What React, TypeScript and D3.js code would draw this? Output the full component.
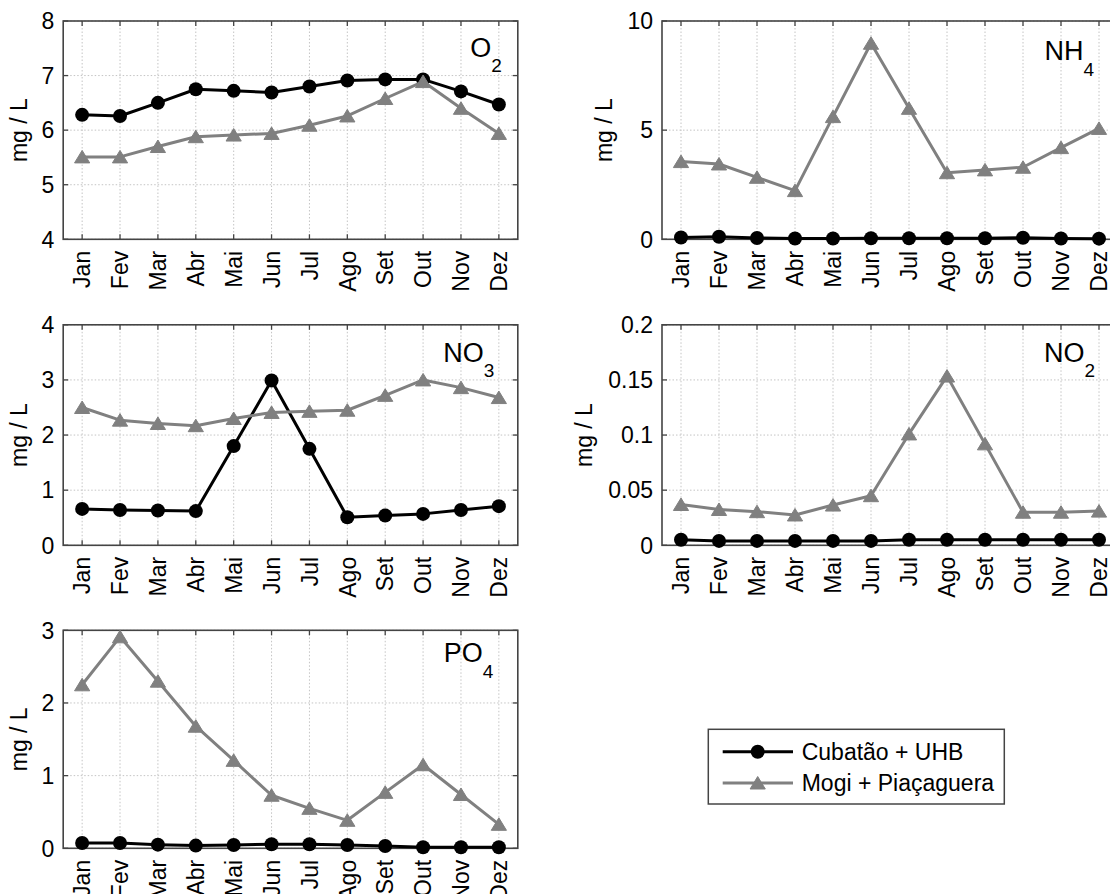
import React from "react";
import * as d3 from "d3";

// ---------- Data ----------
const months = ["Jan", "Fev", "Mar", "Abr", "Mai", "Jun", "Jul", "Ago", "Set", "Out", "Nov", "Dez"];
const seriesNames = ["Cubatão + UHB", "Mogi + Piaçaguera"];

const o2Cubatao = [6.28, 6.26, 6.5, 6.75, 6.72, 6.69, 6.8, 6.91, 6.93, 6.93, 6.71, 6.47];
const o2Mogi = [5.51, 5.51, 5.7, 5.88, 5.91, 5.94, 6.09, 6.26, 6.58, 6.89, 6.4, 5.94];
const o2Ticks = [4, 5, 6, 7, 8];

const nh4Cubatao = [0.08, 0.12, 0.06, 0.04, 0.04, 0.05, 0.05, 0.05, 0.05, 0.07, 0.04, 0.03];
const nh4Mogi = [3.56, 3.45, 2.84, 2.23, 5.62, 8.98, 6.0, 3.05, 3.18, 3.3, 4.2, 5.08];
const nh4Ticks = [0, 5, 10];

const no3Cubatao = [0.66, 0.64, 0.63, 0.62, 1.8, 2.99, 1.75, 0.51, 0.54, 0.57, 0.64, 0.71];
const no3Mogi = [2.5, 2.27, 2.21, 2.17, 2.3, 2.41, 2.43, 2.45, 2.72, 3.0, 2.86, 2.68];
const no3Ticks = [0, 1, 2, 3, 4];

const no2Cubatao = [0.005, 0.004, 0.004, 0.004, 0.004, 0.004, 0.005, 0.005, 0.005, 0.005, 0.005, 0.005];
const no2Mogi = [0.037, 0.0325, 0.0305, 0.0275, 0.0365, 0.045, 0.101, 0.1535, 0.092, 0.03, 0.03, 0.031];
const no2Ticks = [0, 0.05, 0.1, 0.15, 0.2];

const po4Cubatao = [0.073, 0.073, 0.05, 0.037, 0.046, 0.055, 0.055, 0.046, 0.032, 0.014, 0.014, 0.014];
const po4Mogi = [2.25, 2.91, 2.3, 1.68, 1.21, 0.73, 0.55, 0.385, 0.77, 1.15, 0.74, 0.33];
const po4Ticks = [0, 1, 2, 3];

// ---------- Style / layout ----------
const FONT = "'Liberation Sans', Arial, Helvetica, sans-serif";
const BLACK = "#000000";
const GRAY = "#808080";
const AXIS = "#444444";
const GRID = "#c4c4c4";
const FS = 23;

type PanelSpec = {
  main: string;
  sub: string;
  cubatao: number[];
  mogi: number[];
  ticks: number[];
  left: number;
  top: number;
  width: number;
  height: number;
  ylabelOffset: number;
  labelRight: number;
  labelBase: number;
};

const panels: PanelSpec[] = [
  { main: "O", sub: "2", cubatao: o2Cubatao, mogi: o2Mogi, ticks: o2Ticks,
    left: 63.2, top: 21, width: 454.6, height: 218.3, ylabelOffset: 36, labelRight: 16, labelBase: 35.8 },
  { main: "NH", sub: "4", cubatao: nh4Cubatao, mogi: nh4Mogi, ticks: nh4Ticks,
    left: 662, top: 21, width: 456, height: 218.3, ylabelOffset: 50, labelRight: 24, labelBase: 39 },
  { main: "NO", sub: "3", cubatao: no3Cubatao, mogi: no3Mogi, ticks: no3Ticks,
    left: 63.2, top: 324.8, width: 454.6, height: 220.5, ylabelOffset: 36, labelRight: 23.5, labelBase: 37 },
  { main: "NO", sub: "2", cubatao: no2Cubatao, mogi: no2Mogi, ticks: no2Ticks,
    left: 662, top: 324.8, width: 456, height: 220.5, ylabelOffset: 70, labelRight: 23, labelBase: 37 },
  { main: "PO", sub: "4", cubatao: po4Cubatao, mogi: po4Mogi, ticks: po4Ticks,
    left: 63.2, top: 630.3, width: 454.6, height: 218, ylabelOffset: 36, labelRight: 24.5, labelBase: 32 },
];

const triPath = "M0,-6.5L7.6,6L-7.6,6Z";
const MR = 7;

function Panel({ p }: { p: PanelSpec }) {
  const right = p.left + p.width;
  const bottom = p.top + p.height;
  const xb = d3.scaleBand<string>().domain(months).range([p.left, right]).padding(0);
  const xc = (m: string) => (xb(m) as number) + xb.bandwidth() / 2;
  const y = d3.scaleLinear().domain([p.ticks[0], p.ticks[p.ticks.length - 1]]).range([bottom, p.top]);
  const line = d3.line<number>().x((_, i) => xc(months[i])).y((v) => y(v));
  const tl = 5;
  const cy = (p.top + bottom) / 2;
  const ylx = p.left - p.ylabelOffset;
  return (
    <g>
      {/* grid */}
      {months.map((m) => (
        <line key={"gx" + m} x1={xc(m)} x2={xc(m)} y1={p.top} y2={bottom}
          stroke={GRID} strokeWidth={1} strokeDasharray="1.5,2" />
      ))}
      {p.ticks.map((t) => (
        <line key={"gy" + t} x1={p.left} x2={right} y1={y(t)} y2={y(t)}
          stroke={GRID} strokeWidth={1} strokeDasharray="1.5,2" />
      ))}
      {/* ticks */}
      {months.map((m) => (
        <g key={"tx" + m}>
          <line x1={xc(m)} x2={xc(m)} y1={bottom} y2={bottom - tl} stroke={AXIS} strokeWidth={1.3} />
          <line x1={xc(m)} x2={xc(m)} y1={p.top} y2={p.top + tl} stroke={AXIS} strokeWidth={1.3} />
        </g>
      ))}
      {p.ticks.map((t) => (
        <g key={"ty" + t}>
          <line x1={p.left} x2={p.left + tl} y1={y(t)} y2={y(t)} stroke={AXIS} strokeWidth={1.3} />
          <line x1={right} x2={right - tl} y1={y(t)} y2={y(t)} stroke={AXIS} strokeWidth={1.3} />
        </g>
      ))}
      {/* box */}
      <rect x={p.left} y={p.top} width={p.width} height={p.height} fill="none" stroke={AXIS} strokeWidth={1.6} />
      {/* y tick labels */}
      {p.ticks.map((t) => (
        <text key={"yl" + t} x={p.left - 9} y={y(t)} dy="0.36em" textAnchor="end"
          fontFamily={FONT} fontSize={FS} fill="#000">{String(t)}</text>
      ))}
      {/* x tick labels */}
      {months.map((m) => (
        <text key={"xl" + m} transform={`translate(${xc(m)},${bottom + 11.5}) rotate(-90)`}
          dy="0.36em" textAnchor="end" fontFamily={FONT} fontSize={FS} fill="#000">{m}</text>
      ))}
      {/* y label */}
      <text transform={`translate(${ylx},${cy}) rotate(-90)`} textAnchor="middle"
        fontFamily={FONT} fontSize={FS} fill="#000">mg / L</text>
      {/* series: black */}
      <path d={line(p.cubatao) as string} fill="none" stroke={BLACK} strokeWidth={3} strokeLinejoin="round" />
      {p.cubatao.map((v, i) => (
        <circle key={"c" + i} cx={xc(months[i])} cy={y(v)} r={MR} fill={BLACK} />
      ))}
      {/* series: gray */}
      <path d={line(p.mogi) as string} fill="none" stroke={GRAY} strokeWidth={3} strokeLinejoin="round" />
      {p.mogi.map((v, i) => (
        <path key={"t" + i} d={triPath} transform={`translate(${xc(months[i])},${y(v)})`} fill={GRAY} stroke={GRAY} strokeWidth={1} strokeLinejoin="round" />
      ))}
      {/* panel label */}
      <text x={right - p.labelRight} y={p.top + p.labelBase} textAnchor="end" fontFamily={FONT} fontSize={27} fill="#000">
        <tspan>{p.main}</tspan>
        <tspan fontSize={19} dy={15.5}>{p.sub}</tspan>
      </text>
    </g>
  );
}

function Legend() {
  const x0 = 708.3, y0 = 729.3, w = 296, h = 74.7;
  const rows = [
    { name: seriesNames[0], color: BLACK, y: 751.7, marker: "circle" },
    { name: seriesNames[1], color: GRAY, y: 783, marker: "tri" },
  ];
  return (
    <g>
      <rect x={x0} y={y0} width={w} height={h} fill="#fff" stroke={AXIS} strokeWidth={1.5} />
      {rows.map((r) => (
        <g key={r.name}>
          <line x1={722.7} x2={793} y1={r.y} y2={r.y} stroke={r.color} strokeWidth={3} />
          {r.marker === "circle" ? (
            <circle cx={757.7} cy={r.y} r={MR} fill={r.color} />
          ) : (
            <path d={triPath} transform={`translate(757.7,${r.y})`} fill={r.color} stroke={r.color} strokeWidth={1} />
          )}
          <text x={801.7} y={r.y} dy="0.36em" fontFamily={FONT} fontSize={FS} fill="#000">{r.name}</text>
        </g>
      ))}
    </g>
  );
}

export default function App() {
  return (
    <svg width={1110} height={894} style={{ position: "absolute", left: 0, top: 0, background: "#fff" }}>
      <rect x={0} y={0} width={1110} height={894} fill="#fff" />
      {panels.map((p, i) => (
        <Panel key={i} p={p} />
      ))}
      <Legend />
    </svg>
  );
}
